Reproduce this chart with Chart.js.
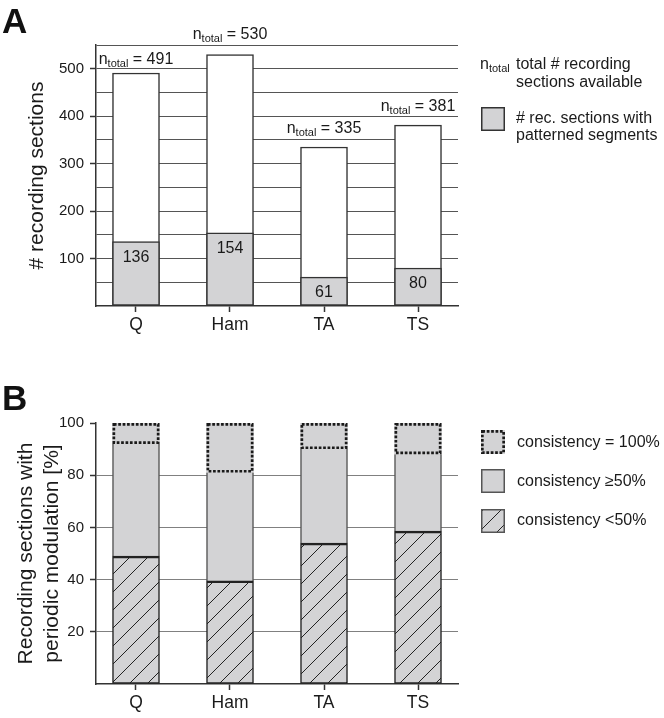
<!DOCTYPE html>
<html>
<head>
<meta charset="utf-8">
<script src="https://cdn.jsdelivr.net/npm/chart.js@4.4.1/dist/chart.umd.min.js"></script>
<style>
html, body { margin: 0; padding: 0; background: #fff; }
#wrap { position: relative; width: 664px; height: 718px; }
canvas { position: absolute; left: 0; }
#chartA { top: 0; }
#chartB { top: 345px; }
</style>
</head>
<body>
<div id="wrap">
  <canvas id="chartA" width="664" height="345"></canvas>
  <canvas id="chartB" width="664" height="373"></canvas>
</div>
<script>
// Data
const muscles = ['Q', 'Ham', 'TA', 'TS'];
const totalSections = [491, 530, 335, 381];
const patternedSections = [136, 154, 61, 80];
const yLabelsA = [100, 200, 300, 400, 500];

const pctBelow50 = [49, 39.5, 54, 58.6];
const pctAtLeast50 = [43, 41.5, 36, 29.4];
const pct100 = [8, 19, 10, 12];
const yLabelsB = [20, 40, 60, 80, 100];

// Styles
const FONT = "'Liberation Sans', Arial, Helvetica, sans-serif";
const INK = '#1a1a1a';
const GRAY = '#d3d3d5';
const EDGE = '#333';
const NONE = 'rgba(0,0,0,0)';
const labelGapA = [9, 15, 14, 14];

function makeHatch() {
    const s = 18;
    const c = document.createElement('canvas');
    c.width = s;
    c.height = s;
    const g = c.getContext('2d');
    g.fillStyle = GRAY;
    g.fillRect(0, 0, s, s);
    g.strokeStyle = '#222';
    g.lineWidth = 1;
    g.beginPath();
    g.moveTo(0, s); g.lineTo(s, 0);
    g.moveTo(-s / 2, s / 2); g.lineTo(s / 2, -s / 2);
    g.moveTo(s / 2, s * 1.5); g.lineTo(s * 1.5, s / 2);
    g.stroke();
    return g.createPattern(c, 'repeat');
}
const hatch = makeHatch();

function xScale(h, stacked) {
    return {
        type: 'linear',
        min: -0.4255,
        max: 3.4255,
        offset: false,
        stacked: stacked,
        afterBuildTicks: function(s) {
            s.ticks = muscles.map(function(m, i) { return { value: i }; });
        },
        afterFit: function(s) { s.height = h; },
        ticks: {
            callback: function(v) { return muscles[v]; },
            font: { family: FONT, size: 17.5 },
            color: INK,
            padding: 3,
            maxRotation: 0,
            autoSkip: false
        },
        grid: { offset: false, drawOnChartArea: false, drawTicks: true, tickLength: 6, tickColor: EDGE, tickWidth: 1.5 },
        border: { color: EDGE, width: 1.5 }
    };
}

function yScale(max, step, labels, gridColor, title, titlePad, stacked) {
    return {
        min: 0,
        max: max,
        stacked: stacked,
        afterFit: function(s) { s.width = 96; },
        ticks: {
            stepSize: step,
            callback: function(v) { return labels.includes(v) ? v : ''; },
            font: { family: FONT, size: 15 },
            color: INK,
            padding: 6
        },
        grid: {
            color: gridColor,
            lineWidth: 1,
            tickLength: 6,
            tickWidth: 1.5,
            tickColor: function(c) { return (c.tick && labels.includes(c.tick.value)) ? EDGE : NONE; }
        },
        border: { color: EDGE, width: 1.5 },
        title: {
            display: true,
            text: title,
            color: INK,
            font: { family: FONT, size: 21, lineHeight: 1.26 },
            padding: { top: titlePad, bottom: 0 }
        }
    };
}

function drawNTotal(ctx, x, baseline, rest, center) {
    ctx.font = '16px ' + FONT;
    const wn = ctx.measureText('n').width;
    const wr = ctx.measureText(rest).width;
    ctx.font = '11px ' + FONT;
    const wt = ctx.measureText('total').width;
    let start = center ? x - (wn + wt + wr) / 2 : x;
    ctx.textAlign = 'left';
    ctx.textBaseline = 'alphabetic';
    ctx.font = '16px ' + FONT;
    ctx.fillText('n', start, baseline);
    ctx.font = '11px ' + FONT;
    ctx.fillText('total', start + wn, baseline + 3);
    ctx.font = '16px ' + FONT;
    if (rest) ctx.fillText(rest, start + wn + wt, baseline);
}

function dottedRect(ctx, x, y, w, h) {
    ctx.save();
    ctx.strokeStyle = '#1a1a1a';
    ctx.lineWidth = 2.7;
    ctx.setLineDash([2.7, 1.7]);
    ctx.strokeRect(x + 1.35, y + 1.35, w - 2.7, h - 2.7);
    ctx.restore();
}

function panelLetter(ctx, letter, y) {
    ctx.font = 'bold 35px ' + FONT;
    ctx.fillStyle = '#111';
    ctx.textAlign = 'left';
    ctx.textBaseline = 'alphabetic';
    ctx.fillText(letter, 2, y);
}

// Etichette e legenda del pannello A
const panelAPlugin = {
    id: 'panelAPlugin',
    afterDatasetsDraw: function(chart) {
        const ctx = chart.ctx;
        const partMeta = chart.getDatasetMeta(0);
        const totalMeta = chart.getDatasetMeta(1);
        ctx.save();
        ctx.fillStyle = INK;
        totalMeta.data.forEach(function(bar, i) {
            drawNTotal(ctx, bar.x, bar.y - labelGapA[i], ' = ' + totalSections[i], true);
        });
        ctx.font = '16px ' + FONT;
        ctx.textAlign = 'center';
        ctx.textBaseline = 'middle';
        partMeta.data.forEach(function(bar, i) {
            ctx.fillText(patternedSections[i], bar.x, bar.y + 16);
        });

        // legenda
        drawNTotal(ctx, 480, 69, '', false);
        ctx.font = '16px ' + FONT;
        ctx.textAlign = 'left';
        ctx.textBaseline = 'alphabetic';
        ctx.fillText('total # recording', 516, 69);
        ctx.fillText('sections available', 516, 87);
        ctx.fillStyle = GRAY;
        ctx.fillRect(481, 107, 24, 24);
        ctx.strokeStyle = EDGE;
        ctx.lineWidth = 1.5;
        ctx.strokeRect(481.75, 107.75, 22.5, 22.5);
        ctx.fillStyle = INK;
        ctx.fillText('# rec. sections with', 516, 122.5);
        ctx.fillText('patterned segments', 516, 140);

        panelLetter(ctx, 'A', 33);
        ctx.restore();
    }
};

// Bordi tratteggiati e legenda del pannello B
const panelBPlugin = {
    id: 'panelBPlugin',
    afterDatasetsDraw: function(chart) {
        const ctx = chart.ctx;
        const meta = chart.getDatasetMeta(2);
        meta.data.forEach(function(bar) {
            const w = bar.width;
            dottedRect(ctx, bar.x - w / 2, bar.y, w, bar.base - bar.y);
        });

        ctx.save();
        // legenda
        ctx.fillStyle = GRAY;
        ctx.fillRect(481, 85, 24, 24);
        dottedRect(ctx, 481, 85, 24, 24);
        ctx.fillStyle = GRAY;
        ctx.fillRect(481, 124, 24, 24);
        ctx.strokeStyle = '#555';
        ctx.lineWidth = 1.5;
        ctx.strokeRect(481.75, 124.75, 22.5, 22.5);
        ctx.fillStyle = hatch;
        ctx.fillRect(481, 164, 24, 24);
        ctx.strokeRect(481.75, 164.75, 22.5, 22.5);

        ctx.fillStyle = INK;
        ctx.font = '16px ' + FONT;
        ctx.textAlign = 'left';
        ctx.textBaseline = 'alphabetic';
        ctx.fillText('consistency = 100%', 517, 102);
        ctx.fillText('consistency \u226550%', 517, 141);
        ctx.fillText('consistency <50%', 517, 180);

        panelLetter(ctx, 'B', 65);
        ctx.restore();
    }
};

// Pannello A
new Chart(document.getElementById('chartA'), {
    type: 'bar',
    data: {
        datasets: [{
            label: '# rec. sections with patterned segments',
            data: patternedSections.map(function(v, i) { return { x: i, y: v }; }),
            backgroundColor: GRAY,
            borderColor: EDGE,
            borderWidth: 1.5,
            borderSkipped: false,
            barThickness: 47,
            grouped: false,
            order: 0
        }, {
            label: 'total # recording sections available',
            data: totalSections.map(function(v, i) { return { x: i, y: v }; }),
            backgroundColor: '#fff',
            borderColor: EDGE,
            borderWidth: 1.5,
            borderSkipped: false,
            barThickness: 47,
            grouped: false,
            order: 1
        }]
    },
    options: {
        responsive: false,
        animation: false,
        devicePixelRatio: 1,
        layout: { padding: { top: 45, right: 206, left: 0, bottom: 0 } },
        plugins: { legend: { display: false }, tooltip: { enabled: false } },
        scales: {
            x: xScale(39, false),
            y: yScale(550, 50, yLabelsA, function(c) {
                return (c.tick && c.tick.value > 0) ? '#555' : NONE;
            }, '# recording sections', 24, false)
        }
    },
    plugins: [panelAPlugin]
});

// Pannello B
new Chart(document.getElementById('chartB'), {
    type: 'bar',
    data: {
        datasets: [{
            label: 'consistency <50%',
            data: pctBelow50.map(function(v, i) { return { x: i, y: v }; }),
            backgroundColor: hatch,
            borderColor: '#222',
            borderWidth: { top: 2.5, left: 1.5, right: 1.5, bottom: 1.5 },
            borderSkipped: false,
            barThickness: 47
        }, {
            label: 'consistency \u226550%',
            data: pctAtLeast50.map(function(v, i) { return { x: i, y: v }; }),
            backgroundColor: GRAY,
            borderColor: '#555',
            borderWidth: { top: 0, left: 1.5, right: 1.5, bottom: 0 },
            borderSkipped: false,
            barThickness: 47
        }, {
            label: 'consistency = 100%',
            data: pct100.map(function(v, i) { return { x: i, y: v }; }),
            backgroundColor: GRAY,
            borderWidth: 0,
            barThickness: 47
        }]
    },
    options: {
        responsive: false,
        animation: false,
        devicePixelRatio: 1,
        layout: { padding: { top: 78, right: 206, left: 0, bottom: 0 } },
        plugins: { legend: { display: false }, tooltip: { enabled: false } },
        scales: {
            x: xScale(34, true),
            y: yScale(100, 20, yLabelsB, function(c) {
                return (c.tick && c.tick.value > 0 && c.tick.value < 100) ? '#808080' : NONE;
            }, ['Recording sections with', 'periodic modulation [%]'], 13, true)
        }
    },
    plugins: [panelBPlugin]
});
</script>
</body>
</html>
